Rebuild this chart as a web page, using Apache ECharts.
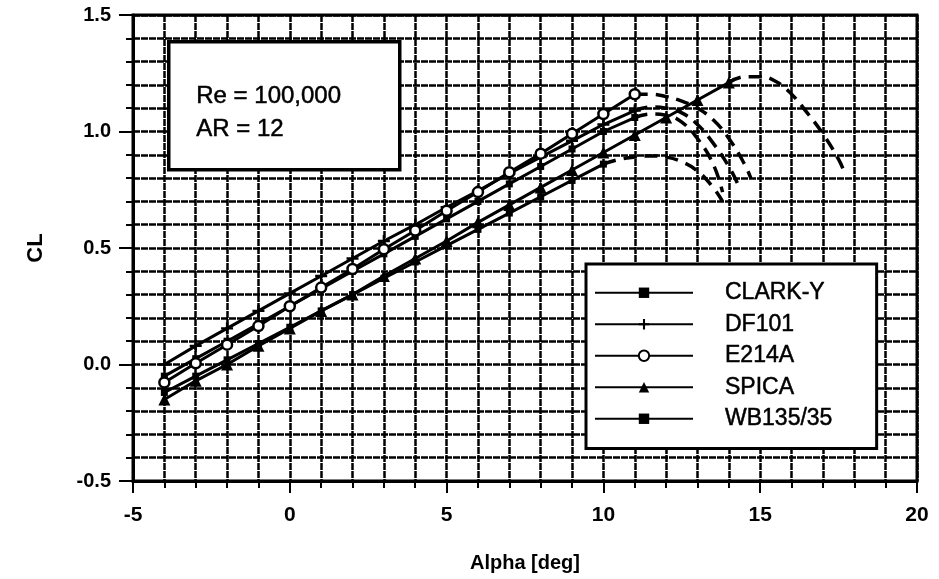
<!DOCTYPE html>
<html>
<head>
<meta charset="utf-8">
<script src="https://cdn.jsdelivr.net/npm/echarts@6/dist/echarts.min.js"></script>
<style>
  html, body { margin: 0; padding: 0; background: #fff; }
  #chart { width: 939px; height: 579px; }
</style>
</head>
<body>
<div id="chart"></div>
<script>
// Angle of attack [deg] for the measured points
const alpha = [-4, -3, -2, -1, 0, 1, 2, 3, 4, 5, 6, 7, 8, 9, 10, 11, 12, 13, 14];

// Lift coefficient, attached-flow part of each polar (same index as alpha)
const clarkY  = [-0.05, 0.025, 0.10, 0.175, 0.25, 0.325, 0.40, 0.475, 0.55, 0.625, 0.70, 0.775, 0.85, 0.925, 1.00, 1.06];
const df101   = [0.00, 0.08, 0.155, 0.23, 0.305, 0.38, 0.455, 0.53, 0.60, 0.675, 0.745, 0.82, 0.89, 0.96, 1.03, 1.09];
const e214a   = [-0.077, 0.005, 0.085, 0.165, 0.25, 0.33, 0.41, 0.495, 0.575, 0.66, 0.74, 0.825, 0.905, 0.99, 1.075, 1.16];
const spica   = [-0.15, -0.07, 0.0, 0.08, 0.155, 0.23, 0.30, 0.38, 0.455, 0.53, 0.61, 0.685, 0.76, 0.835, 0.91, 0.985, 1.06, 1.135, 1.21];
const wb13535 = [-0.12, -0.05, 0.02, 0.09, 0.16, 0.23, 0.30, 0.37, 0.44, 0.51, 0.58, 0.65, 0.72, 0.79, 0.86];

// Post-stall (dashed) branches: [alpha, CL]
const clarkYStall  = [[11, 1.06], [11.5, 1.075], [12, 1.07], [12.5, 1.04], [13, 0.97], [13.5, 0.86], [13.8, 0.74]];
const df101Stall   = [[11, 1.09], [11.5, 1.105], [12, 1.10], [12.5, 1.08], [13, 1.03], [13.5, 0.95], [14, 0.85], [14.3, 0.77]];
const e214aStall   = [[11, 1.16], [11.5, 1.16], [12, 1.15], [12.5, 1.13], [13, 1.10], [13.5, 1.05], [14, 0.97], [14.5, 0.86], [14.7, 0.80]];
const spicaStall   = [[14, 1.21], [14.5, 1.235], [15, 1.235], [15.5, 1.215], [16, 1.16], [16.5, 1.08], [17, 0.99], [17.5, 0.88], [17.7, 0.82]];
const wb13535Stall = [[10, 0.86], [10.5, 0.88], [11, 0.89], [11.5, 0.895], [12, 0.89], [12.5, 0.87], [13, 0.83], [13.5, 0.76], [13.8, 0.70]];

const seriesNames = ['CLARK-Y', 'DF101', 'E214A', 'SPICA', 'WB135/35'];
const xTickLabels = [-5, 0, 5, 10, 15, 20];
const yTickLabels = ['-0.5', '0.0', '0.5', '1.0', '1.5'];
const noteLines = ['Re = 100,000', 'AR = 12'];

const FONT = '"Liberation Sans", Arial, Helvetica, sans-serif';
const PLUS = 'path://M4,0H6V4H10V6H6V10H4V6H0V4H4Z';

function solid(name, vals, symbol, size, itemStyle) {
  return {
    type: 'line', name: name,
    data: vals.map((v, i) => [alpha[i], v]),
    symbol: symbol, symbolSize: size, showSymbol: true,
    lineStyle: { color: '#000', width: 3 },
    itemStyle: Object.assign({ color: '#000', borderColor: '#000', borderWidth: 0 }, itemStyle || {}),
    z: 4, silent: true
  };
}
function stall(name, pts) {
  return {
    type: 'line', name: name + ' (stall)',
    data: pts, smooth: 0.45, symbol: 'none',
    lineStyle: { color: '#000', width: 3.5, type: [13, 8] },
    z: 3, silent: true
  };
}

const chart = echarts.init(document.getElementById('chart'), null, { renderer: 'canvas' });

// heavy, slightly broken grid rules
const gridLine = { show: true, lineStyle: { color: '#000', width: 2.5, type: [7, 1] } };

chart.setOption({
  animation: false,
  backgroundColor: '#fff',
  textStyle: { fontFamily: FONT },
  grid: { left: 133, right: 22, top: 15, bottom: 98, show: true, borderColor: '#000', borderWidth: 3, backgroundColor: 'transparent' },
  xAxis: [
    {
      type: 'value', min: -5, max: 20, interval: 1,
      name: 'Alpha [deg]', nameLocation: 'middle', nameGap: 72,
      nameTextStyle: { fontFamily: FONT, fontWeight: 'bold', fontSize: 20, color: '#000' },
      axisLine: { show: true, onZero: false, lineStyle: { color: '#000', width: 3 } },
      axisTick: { show: true, length: 7, lineStyle: { color: '#000', width: 2 } },
      axisLabel: {
        margin: 24, color: '#000', fontFamily: FONT, fontWeight: 'bold', fontSize: 21,
        formatter: v => (xTickLabels.indexOf(Math.round(v)) >= 0 && Math.abs(v - Math.round(v)) < 1e-6) ? String(Math.round(v)) : ''
      },
      splitLine: gridLine
    },
    {
      type: 'value', min: -5, max: 20, interval: 5, position: 'bottom',
      axisLine: { show: false, onZero: false },
      axisTick: { show: true, length: 12, lineStyle: { color: '#000', width: 2 } },
      axisLabel: { show: false }, splitLine: { show: false }
    }
  ],
  yAxis: [
    {
      type: 'value', min: -0.5, max: 1.5, interval: 0.1,
      name: 'CL', nameLocation: 'middle', nameGap: 86,
      nameTextStyle: { fontFamily: FONT, fontWeight: 'bold', fontSize: 22, color: '#000' },
      axisLine: { show: true, onZero: false, lineStyle: { color: '#000', width: 3 } },
      axisTick: { show: true, length: 7, lineStyle: { color: '#000', width: 2 } },
      axisLabel: {
        margin: 22, color: '#000', fontFamily: FONT, fontWeight: 'bold', fontSize: 20,
        formatter: v => {
          const s = (Math.round(v * 10) / 10).toFixed(1);
          return yTickLabels.indexOf(s) >= 0 ? s : '';
        }
      },
      splitLine: gridLine
    },
    {
      type: 'value', min: -0.5, max: 1.5, interval: 0.5, position: 'left',
      axisLine: { show: false, onZero: false },
      axisTick: { show: true, length: 14, lineStyle: { color: '#000', width: 2 } },
      axisLabel: { show: false }, splitLine: { show: false }
    }
  ],
  legend: {
    data: seriesNames,
    orient: 'vertical', left: 586, top: 264,
    backgroundColor: '#fff', borderColor: '#000', borderWidth: 3,
    padding: [17, 44, 18, 8],
    itemWidth: 98, itemHeight: 13, itemGap: 8,
    textStyle: { fontFamily: FONT, fontSize: 23, color: '#000', lineHeight: 23, padding: [0, 0, 0, 27], textBorderColor: '#000', textBorderWidth: 0.5 },
    selectedMode: false
  },
  graphic: [
    {
      type: 'rect', left: 167, top: 40, z: 50,
      shape: { width: 231, height: 128 },
      style: { fill: '#fff', stroke: '#000', lineWidth: 3.5 }
    },
    {
      type: 'text', left: 196, top: 80, z: 51,
      style: { text: noteLines.join('\n'), font: '24px ' + FONT, fill: '#000', stroke: '#000', lineWidth: 0.5, lineHeight: 33 }
    }
  ],
  series: [
    stall('CLARK-Y', clarkYStall),
    stall('DF101', df101Stall),
    stall('E214A', e214aStall),
    stall('SPICA', spicaStall),
    stall('WB135/35', wb13535Stall),
    solid('WB135/35', wb13535, 'rect', 7),
    solid('SPICA', spica, 'triangle', 12),
    solid('CLARK-Y', clarkY, 'rect', 7),
    solid('DF101', df101, PLUS, 12),
    solid('E214A', e214a, 'circle', 10, { color: '#fff', borderColor: '#000', borderWidth: 2.5 })
  ]
});
</script>
</body>
</html>
